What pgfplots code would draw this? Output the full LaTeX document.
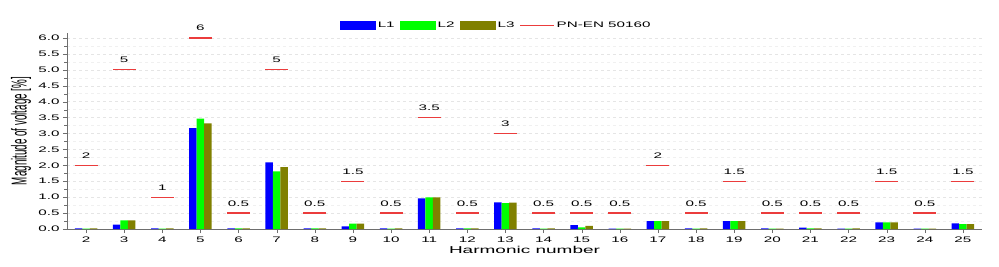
\documentclass[border=0pt]{standalone}
\usepackage{fontspec}
\setmainfont{Liberation Sans}[FakeStretch=1.9]
\newfontfamily\ylabfont{Liberation Sans}
\usepackage{pgfplots}
\usepackage{pgfplotstable}
\pgfplotsset{compat=1.18}
\definecolor{cL1}{RGB}{0,0,255}
\definecolor{cL2}{RGB}{0,255,0}
\definecolor{cL3}{RGB}{128,128,0}
\definecolor{climit}{RGB}{235,60,60}
\definecolor{axgray}{RGB}{110,110,110}

\pgfplotstableread{
h   L1    L2    L3
2   0.02  0.01  0.02
3   0.14  0.27  0.27
4   0.02  0.01  0.02
5   3.17  3.47  3.32
6   0.02  0.02  0.02
7   2.09  1.81  1.94
8   0.02  0.02  0.02
9   0.08  0.17  0.17
10  0.02  0.01  0.02
11  0.96  0.99  0.99
12  0.02  0.02  0.02
13  0.84  0.81  0.83
14  0.02  0.01  0.02
15  0.12  0.05  0.10
16  0.01  0.01  0.01
17  0.25  0.25  0.25
18  0.02  0.01  0.02
19  0.25  0.25  0.25
20  0.02  0.01  0.01
21  0.04  0.02  0.02
22  0.01  0.01  0.02
23  0.21  0.21  0.21
24  0.01  0.01  0.01
25  0.18  0.15  0.15
}\harm

\pgfplotstableread{
h   lim  label
2   2    2
3   5    5
4   1    1
5   6    6
6   0.5  0.5
7   5    5
8   0.5  0.5
9   1.5  1.5
10  0.5  0.5
11  3.5  3.5
12  0.5  0.5
13  3    3
14  0.5  0.5
15  0.5  0.5
16  0.5  0.5
17  2    2
18  0.5  0.5
19  1.5  1.5
20  0.5  0.5
21  0.5  0.5
22  0.5  0.5
23  1.5  1.5
24  0.5  0.5
25  1.5  1.5
}\limits

\begin{document}
\begin{tikzpicture}
\path[use as bounding box] (-67pt,-37pt) rectangle (932pt,229pt);
\begin{axis}[
  scale only axis,
  width=915pt, height=195.8pt,
  xmin=1.5, xmax=25.5,
  ymin=0, ymax=6.15,
  axis x line=bottom, axis y line=left,
  axis line style={axgray, -},
  tick style={axgray},
  tick align=outside,
  xtick={2,...,25},
  ytick={0,0.5,...,6.0},
  minor y tick num=1,
  major tick length=4pt, minor tick length=2.5pt,
  ymajorgrids, yminorgrids,
  major grid style={gray!20, dashed, line width=0.4pt},
  minor grid style={gray!12, dashed, line width=0.4pt},
  /pgf/number format/assume math mode=true,
  yticklabel style={/pgf/number format/.cd, fixed, fixed zerofill, precision=1},
  ticklabel style={font=\fontsize{8}{9}\selectfont},
  xlabel={Harmonic number},
  xlabel style={font=\fontsize{10}{11}\selectfont, at={(axis description cs:0.5,0)}, anchor=north, yshift=-17pt, inner sep=0pt},
  ylabel={\scalebox{1}[2.2]{\ylabfont\fontsize{9.8}{10}\selectfont Magnitude of voltage [\%]}},
  ylabel style={at={(axis description cs:-0.0503,0.5)}, anchor=center, inner sep=0pt},
  legend style={at={(axis description cs:0.469,1.038)}, anchor=center, draw=none, fill=none,
    font=\fontsize{8}{9}\selectfont, legend columns=-1,
    /tikz/every even column/.append style={column sep=3pt}},
  legend cell align=left,
]
\addplot[ybar, bar width=7.5pt, bar shift=-7.5pt, fill=cL1, draw=none,
  legend image code/.code={\fill[cL1] (0pt,-4.4pt) rectangle (36pt,4.4pt);}]
  table[x=h, y=L1] {\harm};
\addlegendentry{L1}
\addplot[ybar, bar width=7.5pt, bar shift=0pt, fill=cL2, draw=none,
  legend image code/.code={\fill[cL2] (0pt,-4.4pt) rectangle (36pt,4.4pt);}]
  table[x=h, y=L2] {\harm};
\addlegendentry{L2}
\addplot[ybar, bar width=7.5pt, bar shift=7.5pt, fill=cL3, draw=none,
  legend image code/.code={\fill[cL3] (0pt,-4.4pt) rectangle (36pt,4.4pt);}]
  table[x=h, y=L3] {\harm};
\addlegendentry{L3}
\addplot[climit, only marks, mark=-, mark size=11.5pt, mark options={draw=climit, line width=1.2pt},
  point meta=explicit symbolic,
  nodes near coords,
  every node near coord/.append style={font=\fontsize{8}{9}\selectfont, text=black, anchor=base, yshift=7pt, inner sep=0pt},
  legend image code/.code={\draw[climit, line width=1.2pt] (0pt,0pt) -- (34pt,0pt);}]
  table[x=h, y=lim, meta=label] {\limits};
\addlegendentry{PN-EN 50160}
\end{axis}
\end{tikzpicture}
\end{document}
